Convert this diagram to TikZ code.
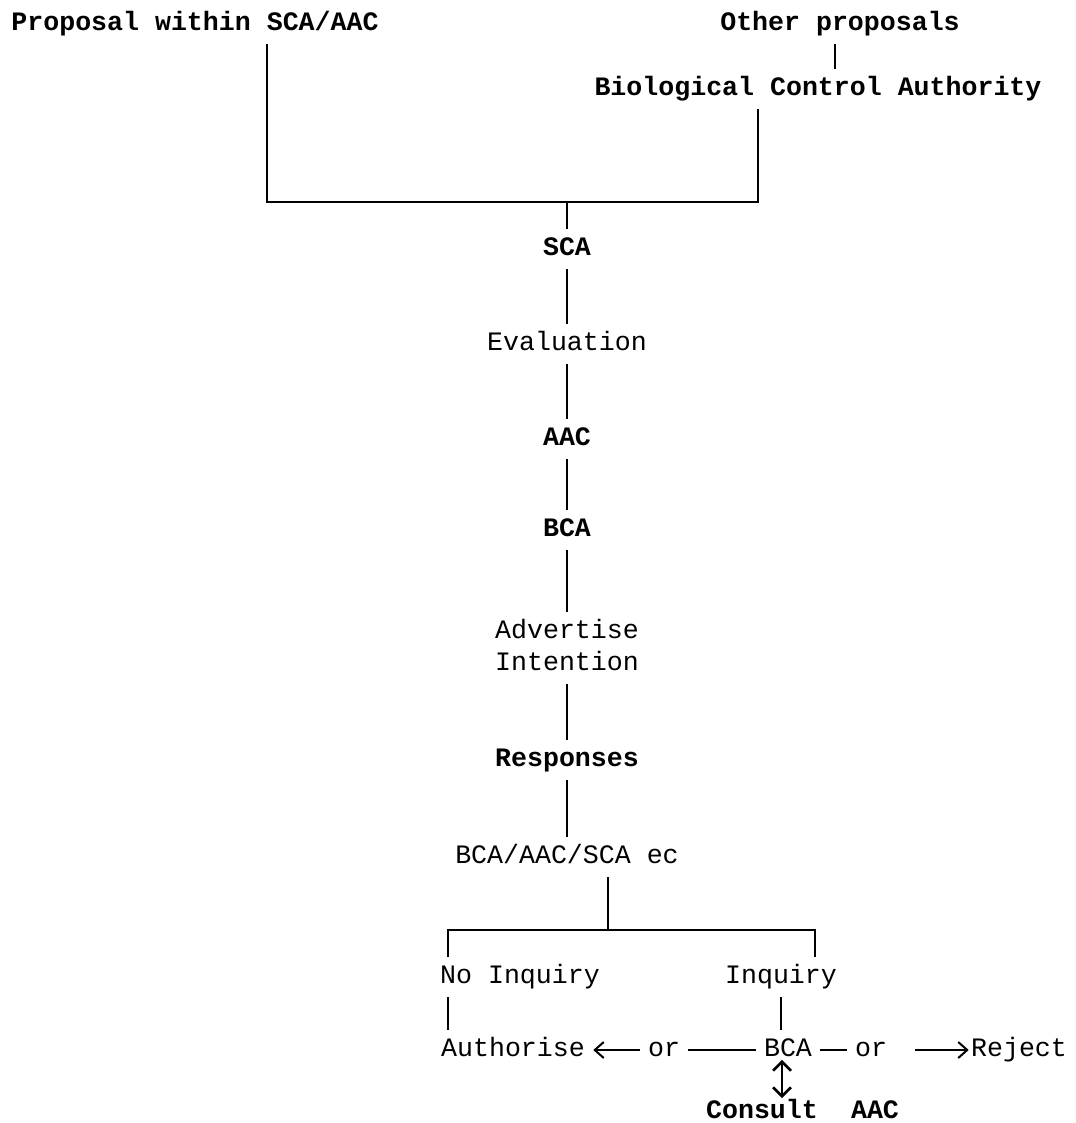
\documentclass[tikz,border=0pt]{standalone}
\usepackage{fontspec}
\setmonofont{Liberation Mono}
\usetikzlibrary{arrows.meta}
\tikzset{
  every node/.style={font=\fontsize{13.3}{16}\selectfont\ttfamily,
    text height=9pt, text depth=2.5pt, inner sep=4pt},
  hd/.style={font=\fontsize{13.3}{16}\selectfont\ttfamily\bfseries},
  wire/.style={line width=1pt},
  arr/.style={wire, -{Straight Barb[length=4.5pt,width=8pt]}},
  dbl/.style={line width=1.3pt, {Straight Barb[length=4.5pt,width=9pt]}-{Straight Barb[length=4.5pt,width=9pt]}},
}
\begin{document}
\begin{tikzpicture}[x=0.5pt,y=-0.5pt]
      \useasboundingbox (0,0) rectangle (1075,1123);
      \draw
        (195,24) node[hd] (prop){Proposal within SCA/AAC}
        (840,24) node[hd] (other){Other proposals}
        (818,89) node[hd] (bcauth){Biological Control Authority}
        (567,249) node[hd] (sca){SCA}
        (567,344) node (eval){Evaluation}
        (567,439) node[hd] (aac){AAC}
        (567,530) node[hd] (bca){BCA}
        (567,648) node[align=center, text height=25pt] (advert){Advertise\\Intention}
        (567,760) node[hd] (resp){Responses}
        (567,857) node (review){BCA/AAC/SCA ec}
        (520,977) node (noinq){No Inquiry}
        (781,977) node (inq){Inquiry}
        (513,1050) node (auth){Authorise}
        (664,1050) node (or1){or}
        (788,1050) node (bcb){BCA}
        (871,1050) node (or2){or}
        (1019,1050) node (reject){Reject}
        (762,1112) node[hd] (consult){Consult}
        (875,1112) node[hd] (aacb){AAC};
      \coordinate (jl) at (267,202);
      \coordinate (jr) at (758,202);
      \coordinate (js) at (608,930);
      \coordinate (jn) at (448,930);
      \coordinate (ji) at (815,930);
      \begin{scope}[wire]
        \draw ([xshift=-2.5pt]other.south) to ([xshift=8.5pt]bcauth.north);
        \draw (prop.south -| jl) to (jl) to (jr) to (bcauth.south -| jr);
        \draw (jl -| sca) to (sca);
        \draw (sca) to (eval);
        \draw (eval) to (aac);
        \draw (aac) to (bca);
        \draw (bca) to (advert);
        \draw (advert) to (resp);
        \draw (resp) to (review);
        \draw (review.south -| js) to (js);
        \draw (noinq.north -| jn) to (jn) to (ji) to (inq.north -| ji);
        \draw (noinq.south -| jn) to (auth.north -| jn);
        \draw (inq.south) to (inq.south |- bcb.north);
        \draw (bcb) to (or1);
        \draw (bcb) to (or2);
      \end{scope}
      \draw[arr] (or1) to (auth);
      \draw[arr, shorten <=10pt, shorten >=-3pt] (or2) to (reject);
      \draw[dbl, shorten <=-5pt, shorten >=-3pt]
        ([xshift=-3pt]bcb.south) to ([xshift=-3pt]bcb.south |- consult.north);
    \end{tikzpicture}
\end{document}
